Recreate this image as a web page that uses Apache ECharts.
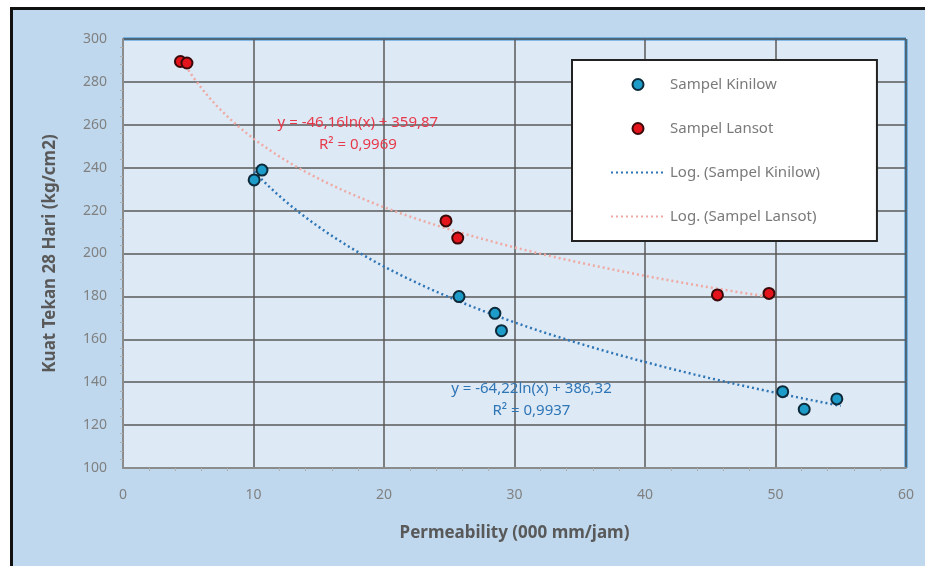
<!DOCTYPE html>
<html>
  <meta charset="UTF-8">
  <title>Kuat Tekan vs Permeability</title>
  <style type="text/css">
    html,body{margin:0px;height:100%;width:100%;background:#fff}
    #frame{position:absolute;left:10px;top:7px;right:0;bottom:0;border-left:3px solid #111;border-top:3px solid #111;background:#bfd8ee}
    #chart{position:absolute;left:0;top:0;width:925px;height:566px}
  </style>
  <script type="text/javascript" src="https://cdn.jsdelivr.net/npm/echarts@6/dist/echarts.min.js"></script>
  <body>
    <div id="frame"></div>
    <div id="chart"></div>

    <script>
      // data
      var kinilowX = [10.05, 10.65, 25.75, 28.5, 29.0, 50.55, 52.2, 54.7];
      var kinilowY = [234.3, 238.9, 179.9, 172.1, 164.0, 135.6, 127.4, 132.2];
      var lansotX = [4.4, 4.9, 24.75, 25.65, 45.55, 49.5];
      var lansotY = [289.5, 288.8, 215.2, 207.2, 180.7, 181.4];

      // log trendline coefficients as printed on the chart: y = a ln(x) + b
      var kinilowFit = [-64.22, 386.32];
      var lansotFit = [-46.16, 359.87];

      var xTicks = [0, 10, 20, 30, 40, 50, 60];
      var yTicks = [100, 120, 140, 160, 180, 200, 220, 240, 260, 280, 300];

      function pairs(xs, ys) {
        return xs.map(function (x, i) { return [x, ys[i]]; });
      }
      function trend(fit, x0, x1) {
        var pts = [];
        for (var k = 0; k <= 80; k++) {
          var x = x0 + (x1 - x0) * k / 80;
          pts.push([x, fit[0] * Math.log(x) + fit[1]]);
        }
        return pts;
      }

      var font = '"Liberation Sans Narrow", "Noto Sans", sans-serif';
      var chart = echarts.init(document.getElementById('chart'));
      var option = {
        backgroundColor: 'transparent',
        animation: false,
        grid: {
          left: 123, top: 39, right: 19, bottom: 98,
          show: true, backgroundColor: '#dde9f5', borderWidth: 0
        },
        xAxis: {
          type: 'value', min: xTicks[0], max: xTicks[xTicks.length - 1], interval: 10,
          name: 'Permeability (000 mm/jam)', nameLocation: 'middle', nameGap: 57,
          nameTextStyle: { color: '#595959', fontSize: 17, fontWeight: 'bold', fontFamily: font },
          axisLine: { lineStyle: { color: '#8c8c8c', width: 2 } },
          axisTick: { show: false },
          minorTick: { show: true, splitNumber: 5, length: 3, lineStyle: { color: '#b0b0b0' } },
          axisLabel: { color: '#808080', fontSize: 14, margin: 20, fontFamily: font },
          splitLine: { lineStyle: { color: '#5a5a5a', width: 1.5 } }
        },
        yAxis: {
          type: 'value', min: yTicks[0], max: yTicks[yTicks.length - 1], interval: 20,
          name: 'Kuat Tekan 28 Hari (kg/cm2)', nameLocation: 'middle', nameGap: 64,
          nameTextStyle: { color: '#595959', fontSize: 17, fontWeight: 'bold', fontFamily: font },
          axisLine: { show: true, lineStyle: { color: '#8c8c8c', width: 2 } },
          axisTick: { show: false },
          minorTick: { show: true, splitNumber: 5, length: 3, lineStyle: { color: '#b0b0b0' } },
          axisLabel: { color: '#808080', fontSize: 14, margin: 16, fontFamily: font },
          splitLine: { lineStyle: { color: '#5a5a5a', width: 1.5 } }
        },
        legend: {
          orient: 'vertical', left: 572, top: 60,
          padding: [17, 57, 17, 38], itemGap: 29,
          backgroundColor: '#ffffff', borderColor: '#222', borderWidth: 2,
          itemWidth: 54, itemHeight: 11,
          textStyle: { color: '#7a7a7a', fontSize: 15, fontFamily: font },
          data: [
            { name: 'Sampel Kinilow', icon: 'circle' },
            { name: 'Sampel Lansot', icon: 'circle' },
            { name: 'Log. (Sampel Kinilow)', itemStyle: { opacity: 0 } },
            { name: 'Log. (Sampel Lansot)', itemStyle: { opacity: 0 } }
          ]
        },
        graphic: [
          { type: 'line', shape: { x1: 123, y1: 39, x2: 906, y2: 39 }, style: { stroke: '#2a8ad4', lineWidth: 3 } },
          { type: 'line', shape: { x1: 906, y1: 39, x2: 906, y2: 468 }, style: { stroke: '#2a8ad4', lineWidth: 3 } }
        ],
        series: [
          {
            name: 'Log. (Sampel Kinilow)', type: 'line', symbol: 'none',
            data: trend(kinilowFit, 10.05, 55),
            lineStyle: { color: '#2e75b6', width: 2.5, type: [2, 3] },
            itemStyle: { color: '#2e75b6' }, z: 2
          },
          {
            name: 'Log. (Sampel Lansot)', type: 'line', symbol: 'none',
            data: trend(lansotFit, 4.4, 49.5),
            lineStyle: { color: '#f0a9a3', width: 2.5, type: [2, 3] },
            itemStyle: { color: '#f0a9a3' }, z: 2
          },
          {
            name: 'Sampel Kinilow', type: 'scatter', symbolSize: 11,
            data: pairs(kinilowX, kinilowY),
            itemStyle: { color: '#1e9cc9', borderColor: '#0d2a3a', borderWidth: 2, opacity: 1 }, z: 3,
            markPoint: {
              symbol: 'rect', symbolSize: 1, itemStyle: { color: 'transparent' },
              label: {
                show: true, color: '#2e75b6', fontSize: 15, fontFamily: font, lineHeight: 22, align: 'center',
                formatter: 'y = -64,22ln(x) + 386,32\nR² = 0,9937'
              },
              data: [{ coord: [31.3, 131.7] }]
            }
          },
          {
            name: 'Sampel Lansot', type: 'scatter', symbolSize: 11,
            data: pairs(lansotX, lansotY),
            itemStyle: { color: '#e3141b', borderColor: '#3a0a0a', borderWidth: 2, opacity: 1 }, z: 3,
            markPoint: {
              symbol: 'rect', symbolSize: 1, itemStyle: { color: 'transparent' },
              label: {
                show: true, color: '#e8394a', fontSize: 15, fontFamily: font, lineHeight: 22, align: 'center',
                formatter: 'y = -46,16ln(x) + 359,87\nR² = 0,9969'
              },
              data: [{ coord: [18.0, 255.7] }]
            }
          }
        ]
      };
      chart.setOption(option);
    </script>
  </body>
</html>
